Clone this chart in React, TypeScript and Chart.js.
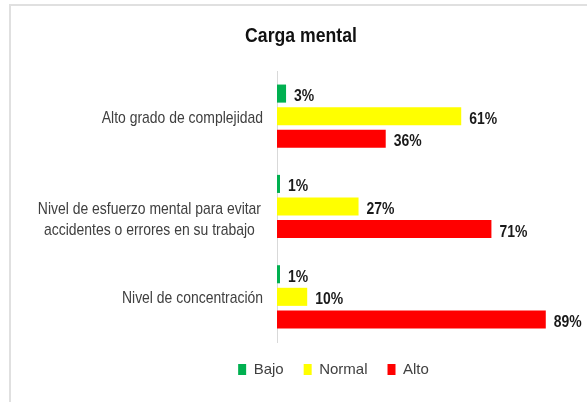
import React, { useEffect, useRef } from "react";
import { Chart, registerables } from "chart.js";

Chart.register(...registerables);

const chartTitle = "Carga mental";
const categories: (string | string[])[] = [
  "Alto grado de complejidad",
  ["Nivel de esfuerzo mental para evitar", "accidentes o errores en su trabajo"],
  "Nivel de concentración",
];
const seriesNames = ["Bajo", "Normal", "Alto"];
const bajoValues = [3, 1, 1];
const normalValues = [61, 27, 10];
const altoValues = [36, 71, 89];
const seriesColors = ["#00B050", "#FFFF00", "#FF0000"];

const FAMILY = '"Liberation Sans", Arial, sans-serif';

function drawCondensed(
  ctx: CanvasRenderingContext2D,
  text: string,
  x: number,
  y: number,
  align: CanvasTextAlign,
  font: string,
  color: string,
  sx: number
) {
  ctx.save();
  ctx.font = font;
  ctx.fillStyle = color;
  ctx.textAlign = align;
  ctx.textBaseline = "alphabetic";
  ctx.translate(x, y);
  ctx.scale(sx, 1);
  ctx.fillText(text, 0, 0);
  ctx.restore();
}

const textPlugin = {
  id: "textPlugin",
  afterDraw(chart: any) {
    const ctx: CanvasRenderingContext2D = chart.ctx;
    const area = chart.chartArea;
    // Title
    drawCondensed(ctx, chartTitle, 301, 42, "center", `bold 21px ${FAMILY}`, "#111111", 0.84);

    // Category labels
    const yScale = chart.scales.y;
    const labelFont = `17px ${FAMILY}`;
    const sx = 0.82;
    categories.forEach((cat, i) => {
      const cy = yScale.getPixelForValue(i);
      if (Array.isArray(cat)) {
        ctx.save();
        ctx.font = labelFont;
        const w = Math.max(...cat.map((l) => ctx.measureText(l).width)) * sx;
        ctx.restore();
        const right = area.left - 16;
        const cx = right - w / 2;
        cat.forEach((line, k) => {
          drawCondensed(ctx, line, cx, cy + 7.5 + k * 21, "center", labelFont, "#404040", sx);
        });
      } else {
        drawCondensed(ctx, cat, area.left - 14, cy + 6.5, "right", labelFont, "#404040", sx);
      }
    });

    // Value labels
    chart.data.datasets.forEach((ds: any, di: number) => {
      const meta = chart.getDatasetMeta(di);
      meta.data.forEach((el: any, j: number) => {
        const v = ds.data[j];
        drawCondensed(ctx, `${v}%`, el.x + 8, el.y + 7.5, "left", `bold 17px ${FAMILY}`, "#1a1a1a", 0.82);
      });
    });
  },
};

export default function App() {
  const ref = useRef<HTMLCanvasElement | null>(null);
  useEffect(() => {
    if (!ref.current) return;
    const chart = new Chart(ref.current, {
      type: "bar",
      data: {
        labels: categories.map((c) => (Array.isArray(c) ? c.join(" ") : c)),
        datasets: [
          { label: seriesNames[0], data: bajoValues, backgroundColor: seriesColors[0], borderWidth: 0 },
          { label: seriesNames[1], data: normalValues, backgroundColor: seriesColors[1], borderWidth: 0 },
          { label: seriesNames[2], data: altoValues, backgroundColor: seriesColors[2], borderWidth: 0 },
        ],
      },
      options: {
        indexAxis: "y",
        responsive: false,
        animation: false,
        devicePixelRatio: 1,
        layout: { padding: { left: 88, right: 8, top: 71, bottom: 15 } },
        datasets: { bar: { categoryPercentage: 0.75, barPercentage: 0.8 } },
        scales: {
          x: { display: false, min: 0, max: 100 },
          y: {
            grid: { display: false },
            ticks: { display: false },
            border: { display: true, color: "#d9d9d9", width: 1 },
            afterFit: (scale: any) => {
              scale.width = 189;
            },
          },
        },
        plugins: {
          title: { display: false },
          tooltip: { enabled: false },
          legend: {
            display: true,
            position: "bottom",
            align: "center",
            labels: {
              boxWidth: 8,
              boxHeight: 11,
              padding: 20,
              color: "#404040",
              font: { family: FAMILY, size: 15 },
            },
          },
        },
      },
      plugins: [textPlugin],
    });
    return () => chart.destroy();
  }, []);

  return (
    <div>
      <div
        style={{
          position: "fixed",
          left: 9,
          top: 4,
          width: 578,
          height: 398,
          borderLeft: "2px solid #e0e0e0",
          borderTop: "2px solid #e0e0e0",
          boxSizing: "border-box",
        }}
      />
      <canvas
        ref={ref}
        width={587}
        height={402}
        style={{ position: "fixed", left: 0, top: 0, width: 587, height: 402 }}
      />
    </div>
  );
}
